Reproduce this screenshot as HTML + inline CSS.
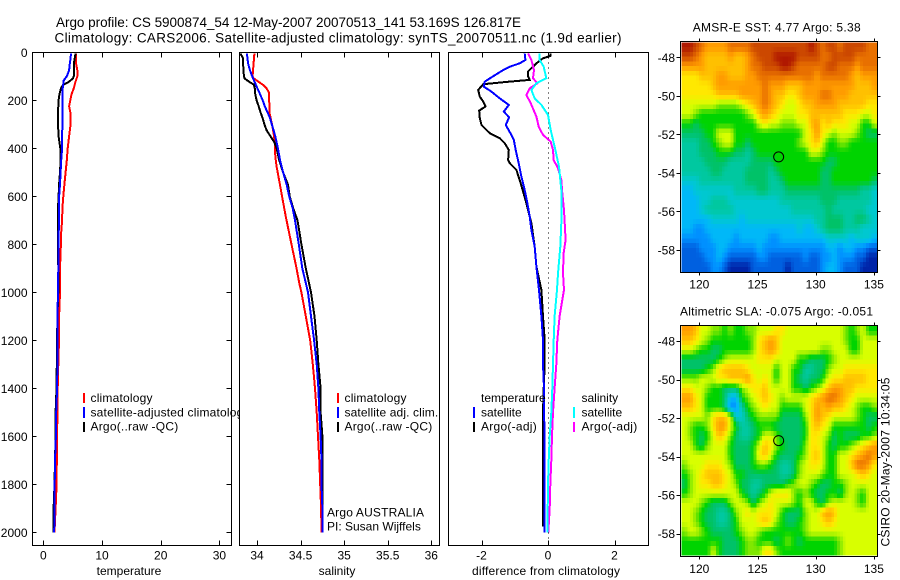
<!DOCTYPE html>
<html lang="en">
<head>
<meta charset="utf-8">
<title>Argo profile CS 5900874_54</title>
<style>
html,body{margin:0;padding:0;background:#fff;}
svg{display:block;}
text{font-family:"Liberation Sans",sans-serif;font-size:12px;fill:#000;}
.big{font-size:13.5px;}
.frame{fill:none;stroke:#000;stroke-width:1;shape-rendering:crispEdges;}
.mid{text-anchor:middle;}
</style>
</head>
<body>
<svg id="chart" xmlns="http://www.w3.org/2000/svg" width="900" height="580" viewBox="0 0 900 580">
  <rect x="0" y="0" width="900" height="580" fill="#fff"/>
  <text class="big" x="56" y="27" textLength="465" lengthAdjust="spacing">Argo profile: CS 5900874_54 12-May-2007 20070513_141 53.169S 126.817E</text>
  <text class="big" x="54.5" y="42.5" textLength="567" lengthAdjust="spacing">Climatology: CARS2006. Satellite-adjusted climatology: synTS_20070511.nc (1.9d earlier)</text>

  <g id="temp-panel">
    <rect x="32.5" y="52.5" width="199" height="493" fill="#fff"/>
    <g id="temp-series"></g>
    <rect class="frame" x="32.5" y="52.5" width="199" height="493"/>
    <g id="temp-ticks"></g>
    <g>
      <rect x="83" y="393" width="2" height="10" fill="#f00"/>
      <text x="90.5" y="402" textLength="62" lengthAdjust="spacing">climatology</text>
      <rect x="83" y="407" width="2" height="11" fill="#00f"/>
      <text x="90.5" y="416.5" textLength="159" lengthAdjust="spacing">satellite-adjusted climatology</text>
      <rect x="83" y="422" width="2" height="10" fill="#000"/>
      <text x="90.5" y="430.5" textLength="87.7" lengthAdjust="spacing">Argo(..raw -QC)</text>
    </g>
    <text class="mid" x="129" y="575">temperature</text>
  </g>

  <g id="sal-panel">
    <rect x="239.5" y="52.5" width="200" height="493" fill="#fff"/>
    <g id="sal-series"></g>
    <rect class="frame" x="239.5" y="52.5" width="200" height="493"/>
    <g id="sal-ticks"></g>
    <g>
      <rect x="337" y="393" width="2" height="10" fill="#f00"/>
      <text x="344.5" y="402" textLength="62" lengthAdjust="spacing">climatology</text>
      <rect x="337" y="407" width="2" height="11" fill="#00f"/>
      <text x="344.5" y="416.5" textLength="93.7" lengthAdjust="spacing">satellite adj. clim.</text>
      <rect x="337" y="422" width="2" height="10" fill="#000"/>
      <text x="344.5" y="430.5" textLength="87.7" lengthAdjust="spacing">Argo(..raw -QC)</text>
    </g>
    <text x="327" y="516.5" textLength="97" lengthAdjust="spacing">Argo AUSTRALIA</text>
    <text x="327" y="530.5">PI: Susan Wijffels</text>
    <text class="mid" x="337" y="575">salinity</text>
  </g>

  <g id="diff-panel">
    <rect x="448.5" y="52.5" width="200" height="493" fill="#fff"/>
    <g id="diff-series"></g>
    <rect class="frame" x="448.5" y="52.5" width="200" height="493"/>
    <g id="diff-ticks"></g>
    <g>
      <text x="481" y="402">temperature</text>
      <rect x="473" y="407" width="2" height="11" fill="#00f"/>
      <text x="481" y="416.5">satellite</text>
      <rect x="473" y="422" width="2" height="10" fill="#000"/>
      <text x="481" y="430.5" textLength="55.7" lengthAdjust="spacing">Argo(-adj)</text>
      <text x="581.5" y="402">salinity</text>
      <rect x="573" y="407" width="2" height="11" fill="#0ff"/>
      <text x="581.5" y="416.5">satellite</text>
      <rect x="573" y="422" width="2" height="10" fill="#f0f"/>
      <text x="581.5" y="430.5" textLength="55.7" lengthAdjust="spacing">Argo(-adj)</text>
    </g>
    <text x="472" y="575" textLength="148" lengthAdjust="spacing">difference from climatology</text>
  </g>

  <g id="sst-map">
    <text x="692.7" y="31.5" textLength="168" lengthAdjust="spacing">AMSR-E SST: 4.77 Argo: 5.38</text>
    <g id="sst-cells"></g>
    <rect class="frame" x="680.5" y="41.5" width="197" height="231"/>
    <g id="sst-ticks"></g>
    <circle id="sst-float" r="5" fill="none" stroke="#000" stroke-width="1"/>
  </g>

  <g id="sla-map">
    <text x="680" y="315.5" textLength="193" lengthAdjust="spacing">Altimetric SLA: -0.075 Argo: -0.051</text>
    <g id="sla-cells"></g>
    <rect class="frame" x="680.5" y="325.5" width="197" height="231"/>
    <g id="sla-ticks"></g>
    <circle id="sla-float" r="5" fill="none" stroke="#000" stroke-width="1"/>
  </g>

  <text transform="translate(889.5,546.5) rotate(-90)" textLength="169" lengthAdjust="spacing">CSIRO 20-May-2007 10:34:05</text>
</svg>

<script>
const depthTicks = [0,200,400,600,800,1000,1200,1400,1600,1800,2000];
const tempTicks = [0,10,20,30];
const salTicks = [34,34.5,35,35.5,36];
const salTickLabels = ['34','34.5','35','35.5','36'];
const diffTicks = [-2,0,2];
const lonTicks = [120,125,130,135];
const latTicks = [-48,-50,-52,-54,-56,-58];
const floatLon = 126.817;
const floatLat = -53.169;

const tempClimDepth = [5,50,75,100,125,150,175,200,225,250,300,350,400,450,500,550,600,650,700,750,800,900,1000,1100,1200,1300,1400,1500,1600,1700,1800,1900,2000];
const tempClimValue = [5.57,5.6,5.8,5.8,5.45,5.2,4.8,4.6,4.4,4.6,4.65,4.4,4.15,4,3.8,3.6,3.4,3.25,3.2,3.05,3,2.85,2.85,2.7,2.67,2.55,2.45,2.45,2.3,2.3,2.27,2.1,1.9];
const tempArgoDepth = [5,25,50,100,110,125,135,150,175,200,250,300,350,400,450,500,550,600,650,700,800,900,1000,1100,1200,1300,1400,1500,1600,1700,1800,1900,2000];
const tempArgoValue = [5.5,5.35,5.2,5.2,5,4.25,3.4,3,2.75,2.6,2.5,2.5,2.6,2.9,2.95,2.85,2.7,2.6,2.5,2.5,2.5,2.55,2.55,2.4,2.35,2.3,2.25,2.1,2.1,2,1.9,1.75,1.7];
const tempSatDepth = [5,25,50,75,100,110,120,130,150,175,200,250,300,350,400,450,500,550,600,650,700,800,900,1000,1100,1200,1300,1400,1500,1600,1700,1800,1900,2000];
const tempSatValue = [4.7,4.65,4.5,4.4,4,3.7,3.4,3.4,3.3,3.25,3.25,3.25,3.25,3.2,3.2,3.05,2.95,2.85,2.7,2.67,2.7,2.55,2.55,2.5,2.4,2.4,2.4,2.35,2.2,2.15,2,1.95,1.9,1.85];

const salClimDepth = [5,50,100,108,122,136,150,170,200,254,296,337,380,435,476,546,615,685,754,824,893,962,1000,1100,1200,1300,1400,1500,1600,1700,1800,1900,2000];
const salClimValue = [33.97,33.96,33.95,33.96,34.015,34.07,34.11,34.14,34.14,34.145,34.17,34.19,34.207,34.21,34.225,34.26,34.295,34.33,34.37,34.41,34.45,34.485,34.51,34.56,34.61,34.64,34.665,34.685,34.70,34.715,34.725,34.735,34.74];
const salArgoDepth = [5,25,50,75,100,110,125,135,150,175,200,225,250,275,300,325,350,375,400,450,500,550,600,650,700,800,900,1000,1100,1200,1300,1400,1500,1600,2000];
const salArgoValue = [33.81,33.84,33.84,33.845,33.85,33.86,33.92,33.965,33.975,33.98,33.995,34.02,34.04,34.065,34.085,34.11,34.155,34.2,34.225,34.255,34.30,34.355,34.375,34.415,34.465,34.51,34.56,34.62,34.66,34.685,34.705,34.73,34.73,34.75,34.75];
const salSatDepth = [5,25,50,75,100,125,150,175,200,225,250,275,300,325,350,400,450,500,550,600,650,700,800,900,1000,1100,1200,1300,1400,1500,1600,1700,1800,1900,2000];
const salSatValue = [33.885,33.89,33.90,33.92,33.945,33.975,34.005,34.035,34.065,34.09,34.12,34.15,34.17,34.19,34.21,34.24,34.265,34.30,34.34,34.37,34.41,34.436,34.48,34.52,34.585,34.62,34.655,34.685,34.705,34.715,34.73,34.74,34.74,34.75,34.75];

const diffTempArgoDepth = [5,15,25,46,80,100,115,122,133,157,185,205,226,243,275,303,337,358,379,407,449,462,490,546,629,712,810,893,990,1100,1200,1300,1400,1500,1600,1976];
const diffTempArgoValue = [0.07,0.07,-0.15,-0.35,-0.60,-0.60,-0.55,-1.15,-1.95,-2.10,-2.05,-1.95,-1.88,-2.07,-2.05,-2.0,-1.75,-1.45,-1.30,-1.18,-1.20,-1.15,-0.95,-0.82,-0.65,-0.50,-0.40,-0.35,-0.20,-0.15,-0.10,-0.10,-0.13,-0.15,-0.15,-0.15];
const diffTempSatDepth = [5,32,46,60,74,87,100,122,143,164,192,219,247,271,303,337,365,407,462,518,574,629,685,740,810,893,990,1100,1200,1300,1400,1500,1600,1700,1800,1900,2000];
const diffTempSatValue = [-0.70,-0.68,-0.85,-1.15,-1.35,-1.50,-1.65,-1.90,-1.93,-1.70,-1.45,-1.18,-1.33,-1.17,-1.27,-1.13,-1.03,-0.97,-0.88,-0.80,-0.70,-0.62,-0.55,-0.50,-0.40,-0.35,-0.27,-0.20,-0.15,-0.15,-0.12,-0.12,-0.10,-0.10,-0.10,-0.10,-0.10];
const diffSalArgoDepth = [5,32,74,108,129,150,178,212,268,310,344,372,407,449,483,532,587,657,782,837,921,990,1100,1200,1300,1400,1500,1600,1700,1800,1900,2000];
const diffSalArgoValue = [-0.60,-0.50,-0.42,-0.45,-0.32,-0.55,-0.65,-0.52,-0.35,-0.28,-0.15,0.08,0.15,0.17,0.30,0.40,0.43,0.48,0.53,0.47,0.45,0.48,0.35,0.28,0.25,0.20,0.15,0.12,0.10,0.07,0.05,0.01];
const diffSalSatDepth = [5,32,60,108,129,157,192,219,261,324,393,476,574,712,810,921,990,1100,1200,1300,1400,1500,1600,1700,1800,1900,2000];
const diffSalSatValue = [-0.25,-0.25,-0.13,-0.05,-0.35,-0.50,-0.40,-0.20,0,0.08,0.20,0.33,0.40,0.40,0.37,0.30,0.27,0.20,0.17,0.15,0.13,0.10,0.05,0.02,0,-0.01,-0.01];

const sstLevels = [
[15,15,14,13,12,12,12,12,13,13,13,13,14,14,14,14,14,14,14,14,14,14,15,14,13,14,14,13,14,14,14,14,13,13],
[14,14,13,12,11,11,11,11,12,11,11,12,13,14,14,14,15,15,15,15,14,14,14,14,13,13,14,14,14,14,13,13,13,13],
[12,12,12,12,11,11,11,11,11,11,11,12,13,13,14,14,14,15,15,14,13,13,13,13,13,14,14,13,13,13,12,13,13,13],
[10,10,10,11,11,11,12,12,11,11,11,12,12,13,13,13,13,13,13,13,13,13,13,12,13,13,13,13,13,12,11,12,12,12],
[10,10,10,10,10,11,12,12,12,12,12,12,12,12,13,12,12,12,11,11,11,12,12,12,12,12,12,12,12,12,11,11,11,12],
[10,10,10,10,10,10,11,11,11,11,12,12,12,12,13,12,11,11,10,10,11,12,12,12,13,13,12,12,12,11,11,11,11,11],
[9,9,9,9,9,9,8,8,8,8,9,10,11,12,13,12,11,10,9,9,10,11,11,12,12,12,12,11,11,11,11,11,10,10],
[9,9,8,7,7,7,7,7,7,7,7,8,9,11,12,11,10,9,9,9,10,10,11,11,11,11,11,11,10,10,10,9,9,10],
[7,7,6,7,7,7,7,7,7,7,7,7,7,9,10,9,9,8,8,8,9,9,11,12,10,11,10,10,10,9,9,7,7,9],
[6,6,6,6,7,7,9,9,9,7,7,7,7,7,7,7,7,7,7,7,7,9,10,12,10,9,8,9,9,9,8,7,6,6],
[5,5,5,6,6,7,8,9,9,7,7,6,7,7,7,7,7,7,7,7,8,9,10,11,9,7,7,8,8,7,7,7,7,7],
[5,5,5,6,6,6,7,7,7,6,6,5,6,7,7,7,7,7,7,7,7,7,9,9,8,7,7,7,7,7,7,7,7,7],
[5,5,5,5,6,6,6,6,5,5,5,5,6,6,6,6,7,7,7,7,7,7,7,7,7,6,6,7,7,7,7,7,7,7],
[5,5,5,5,5,6,6,5,5,5,5,6,6,6,6,5,6,7,7,7,7,7,7,7,6,6,7,7,7,7,7,7,7,7],
[4,4,4,5,5,5,5,5,5,5,5,6,6,6,6,5,5,6,7,7,7,7,7,7,6,6,7,7,7,7,7,7,7,6],
[3,3,4,4,4,4,4,4,4,5,5,5,5,6,6,5,5,5,6,6,6,6,6,6,6,6,6,6,6,6,6,5,5,4],
[3,3,3,4,4,5,5,5,4,4,4,4,4,4,4,4,4,5,5,5,5,5,5,5,6,6,6,5,5,5,5,5,5,4],
[3,3,3,4,5,5,5,5,5,4,4,4,4,4,4,4,4,4,4,5,5,5,5,5,5,6,5,5,5,5,5,5,4,4],
[3,3,3,3,3,4,4,4,4,4,3,4,4,4,4,4,4,4,4,4,4,4,4,5,5,6,6,6,5,5,6,6,5,4],
[3,3,2,2,3,3,3,3,3,3,3,3,3,3,3,3,3,3,3,3,4,3,3,4,5,6,6,6,5,5,5,4,4,4],
[2,2,2,2,2,3,3,3,3,2,3,3,3,3,3,2,2,3,3,3,3,3,3,3,3,4,4,4,4,3,4,4,4,3],
[1,1,1,2,2,2,3,3,2,2,2,2,2,3,2,2,2,2,2,2,2,2,2,2,2,3,3,2,3,3,2,2,1,1],
[1,1,1,1,2,2,3,2,1,1,1,1,1,2,2,1,1,1,1,1,1,2,1,1,2,2,3,2,2,2,1,1,0,0],
[1,1,1,1,1,2,2,1,0,0,0,0,1,1,1,1,1,1,0,1,1,1,1,1,2,3,3,2,1,1,1,0,0,0]
];

const slaLevels = [
[12,12,11,9,9,8,8,7,8,7,7,8,8,9,9,9,10,10,9,9,9,9,9,9,9,9,9,9,8,7,8,9,7,7],
[11,11,10,9,8,7,7,7,7,7,7,7,8,10,11,12,11,9,9,9,9,9,9,9,9,9,9,9,8,7,7,9,9,9],
[9,9,8,7,7,6,6,7,7,7,7,7,8,10,11,12,11,9,9,9,9,9,9,9,8,8,9,9,9,7,7,9,9,9],
[6,6,6,6,6,6,7,8,9,9,9,9,9,10,10,10,9,9,9,9,7,7,6,6,6,7,8,9,9,9,9,9,9,9],
[6,6,6,6,7,8,10,11,11,11,11,10,9,9,9,9,7,9,9,7,7,5,5,6,6,8,9,9,10,10,10,10,10,10],
[8,8,8,9,9,9,10,10,11,11,11,12,10,9,10,9,7,9,9,7,6,5,6,6,7,9,10,10,11,11,11,11,10,10],
[10,10,9,9,8,7,7,6,6,6,8,9,10,10,11,9,9,9,9,7,7,6,7,8,9,11,12,12,11,11,10,10,10,10],
[12,12,10,9,7,7,7,6,3,3,7,8,9,10,11,10,9,8,9,9,9,9,10,11,12,13,13,12,11,10,9,9,9,9],
[11,11,10,9,7,7,7,6,2,2,5,7,8,9,10,9,9,7,7,7,7,9,10,12,11,12,11,11,10,9,8,7,7,8],
[9,9,9,9,8,10,11,11,9,4,4,6,7,8,8,8,8,6,6,6,6,8,10,12,11,10,9,9,9,9,8,7,6,6],
[9,8,7,7,8,10,12,12,9,7,5,5,6,7,7,7,6,6,6,6,6,7,10,11,10,9,7,7,7,7,7,7,6,7],
[9,8,7,6,7,9,11,10,8,6,5,5,6,7,9,9,8,6,6,6,6,7,10,10,9,8,6,7,6,6,6,7,7,8],
[9,9,7,6,8,9,9,9,7,6,6,6,7,9,11,10,8,7,6,6,6,8,10,10,9,7,6,7,7,8,9,10,11,12],
[9,9,9,9,9,9,9,9,7,6,6,6,7,10,11,9,7,6,6,6,7,8,10,11,9,7,7,9,9,10,11,12,13,12],
[8,9,9,9,10,10,10,9,8,6,6,6,7,8,8,7,6,5,5,6,8,9,10,10,9,7,7,9,9,11,13,13,12,10],
[7,8,9,10,11,11,11,10,9,7,7,6,6,6,6,6,6,5,5,6,8,9,9,9,8,7,7,9,9,9,10,11,10,9],
[6,8,9,10,10,11,11,10,9,8,6,6,5,5,6,6,6,6,7,8,9,9,8,7,6,6,7,7,8,9,9,9,9,9],
[7,8,9,9,9,9,9,9,9,9,7,6,5,6,7,9,10,10,10,8,7,8,7,6,6,7,7,6,8,9,8,7,9,9],
[9,9,9,8,7,6,6,6,8,9,9,8,6,8,9,10,9,9,9,8,7,9,9,7,6,8,9,9,9,9,8,7,9,9],
[9,9,8,7,6,6,5,5,6,8,9,10,9,10,10,10,9,7,6,6,6,8,9,9,11,12,11,9,9,9,9,9,9,9],
[9,9,8,7,6,6,5,5,6,7,9,9,9,10,11,10,8,7,6,6,7,8,9,9,10,11,10,9,9,9,9,9,9,9],
[8,9,9,8,7,6,6,6,6,7,8,9,9,8,7,7,7,7,7,7,7,8,9,9,9,9,9,9,9,9,9,9,9,9],
[7,7,7,7,7,7,7,6,6,6,7,8,8,7,7,7,6,7,8,7,6,7,7,7,7,7,7,8,9,9,9,9,9,9],
[7,7,7,7,7,9,7,6,6,6,7,8,8,8,10,10,8,7,7,7,7,7,7,7,7,7,7,8,9,9,9,9,9,9]
];

const colourStops = ['#0024a8','#0060e0','#0090ff','#00b8f8','#00c8d0','#00c8a0','#00c268','#00d400','#80e800','#d8ff00','#ffe800','#ffc000','#ff9c00','#e87000','#cc4800','#b01800'];

const NS = 'http://www.w3.org/2000/svg';
function scale(d0, d1, r0, r1) {
  return function (v) { return r0 + (v - d0) * (r1 - r0) / (d1 - d0); };
}
const depthY = scale(0, 2000, 52.3, 532.3);
const tempX = scale(0, 30, 43.3, 219.4);
const salX = scale(34, 36, 257, 431.3);
const diffX = scale(-2, 2, 481.5, 614.5);
const lonX = scale(120, 135, 699.3, 873.9);
const sstLatY = scale(-48, -58, 57.3, 250);
const slaLatY = scale(-48, -58, 341, 533.7);

function addLine(parent, x1, y1, x2, y2, name) {
  const el = document.createElementNS(NS, 'line');
  el.setAttribute('x1', x1);
  el.setAttribute('y1', y1);
  el.setAttribute('x2', x2);
  el.setAttribute('y2', y2);
  el.setAttribute('stroke', '#000');
  el.setAttribute('shape-rendering', 'crispEdges');
  
  
  parent.appendChild(el);
}
function addLabel(parent, x, y, anchor, str, name) {
  const el = document.createElementNS(NS, 'text');
  el.setAttribute('x', x);
  el.setAttribute('y', y);
  el.setAttribute('text-anchor', anchor);
  el.textContent = str;
  
  
  parent.appendChild(el);
}
function addSeries(parent, depths, values, xFn, colour, name, width) {
  const el = document.createElementNS(NS, 'polyline');
  el.setAttribute('points', depths.map(function (d, i) {
    return xFn(values[i]).toFixed(1) + ',' + depthY(d).toFixed(1);
  }).join(' '));
  el.setAttribute('fill', 'none');
  el.setAttribute('stroke', colour);
  el.setAttribute('stroke-width', width || 2);
  el.setAttribute('shape-rendering', 'crispEdges');
  
  
  parent.appendChild(el);
}

const T = document.getElementById('temp-series');
addSeries(T, tempClimDepth, tempClimValue, tempX, '#f00', 'temperature-climatology-line');
addSeries(T, tempArgoDepth, tempArgoValue, tempX, '#000', 'temperature-argo-line');
addSeries(T, tempSatDepth, tempSatValue, tempX, '#00f', 'temperature-satellite-line');

const S = document.getElementById('sal-series');
addSeries(S, salClimDepth, salClimValue, salX, '#f00', 'salinity-climatology-line');
addSeries(S, salArgoDepth, salArgoValue, salX, '#000', 'salinity-argo-line');
addSeries(S, salSatDepth, salSatValue, salX, '#00f', 'salinity-satellite-line');

const D = document.getElementById('diff-series');
const zeroX = Math.floor(diffX(0)) + 0.5;
addLine(D, zeroX, 52.5, zeroX, 545.5, 'zero-difference-line');
D.lastChild.setAttribute('stroke-dasharray', '1 4');
addSeries(D, diffTempArgoDepth, diffTempArgoValue, diffX, '#000', 'difference-temperature-argo-line');
addSeries(D, diffTempSatDepth, diffTempSatValue, diffX, '#00f', 'difference-temperature-satellite-line');
addSeries(D, diffSalArgoDepth, diffSalArgoValue, diffX, '#f0f', 'difference-salinity-argo-line');
addSeries(D, diffSalSatDepth, diffSalSatValue, diffX, '#0ff', 'difference-salinity-satellite-line');

/* profile panel axes */
function xAxis(id, ticks, labels, xFn, prefix) {
  const g = document.getElementById(id);
  ticks.forEach(function (t, i) {
    const x = Math.round(xFn(t)) + 0.5;
    addLine(g, x, 52.5, x, 57.5, prefix + '-top-tick');
    addLine(g, x, 545.5, x, 540.5, prefix + '-bottom-tick');
    addLabel(g, xFn(t), 559.5, 'middle', labels[i], prefix + '-tick-label');
  });
}
xAxis('temp-ticks', tempTicks, tempTicks.map(String), tempX, 'temperature-x');
xAxis('sal-ticks', salTicks, salTickLabels, salX, 'salinity-x');
xAxis('diff-ticks', diffTicks, diffTicks.map(String), diffX, 'difference-x');

const tg = document.getElementById('temp-ticks');
depthTicks.forEach(function (d) {
  const y = Math.round(depthY(d)) + 0.5;
  if (d > 0) {
    addLine(tg, 32.5, y, 36.5, y, 'depth-left-tick');
    addLine(tg, 231.5, y, 226.5, y, 'depth-right-tick');
  }
  addLabel(tg, 27.5, depthY(d) + 4.5, 'end', String(d), 'depth-tick-label');
});

/* maps: each level grid is drawn with fine cells whose colour follows the grid smoothly */
const stopRgb = colourStops.map(function (h) {
  return [parseInt(h.slice(1, 3), 16), parseInt(h.slice(3, 5), 16), parseInt(h.slice(5, 7), 16)];
});
function levelColour(v) {
  const t = Math.max(0, Math.min(stopRgb.length - 1, v));
  const i = Math.min(stopRgb.length - 2, Math.floor(t));
  const f = t - i;
  const a = stopRgb[i], b = stopRgb[i + 1];
  return 'rgb(' + [0, 1, 2].map(function (k) { return Math.round(a[k] + (b[k] - a[k]) * f); }).join(',') + ')';
}
function sampleGrid(rows, rf, cf) {
  const nr = rows.length, nc = rows[0].length;
  const r = Math.max(0, Math.min(nr - 1, rf));
  const c = Math.max(0, Math.min(nc - 1, cf));
  const r0 = Math.floor(r), c0 = Math.floor(c);
  const r1 = Math.min(nr - 1, r0 + 1), c1 = Math.min(nc - 1, c0 + 1);
  const fr = r - r0, fc = c - c0;
  return (rows[r0][c0] * (1 - fc) + rows[r0][c1] * fc) * (1 - fr) +
         (rows[r1][c0] * (1 - fc) + rows[r1][c1] * fc) * fr;
}
function drawMap(id, rows, latFn) {
  const g = document.getElementById(id);
  const sub = 2;
  const x0 = lonX(118.47), x1 = lonX(135.3);
  const y0 = latFn(-47.22), y1 = latFn(-59.13);
  const nr = rows.length * sub, nc = rows[0].length * sub;
  const cw = (x1 - x0) / nc;
  const ch = (y1 - y0) / nr;
  for (let r = 0; r < nr; r++) {
    for (let c = 0; c < nc; c++) {
      const v = sampleGrid(rows, (r + 0.5) / sub - 0.5, (c + 0.5) / sub - 0.5);
      const el = document.createElementNS(NS, 'rect');
      el.setAttribute('x', (x0 + c * cw).toFixed(2));
      el.setAttribute('y', (y0 + r * ch).toFixed(2));
      el.setAttribute('width', (cw + (c < nc - 1 ? 0.6 : 0)).toFixed(2));
      el.setAttribute('height', (ch + (r < nr - 1 ? 0.6 : 0)).toFixed(2));
      el.setAttribute('fill', levelColour(v));
      el.setAttribute('shape-rendering', 'crispEdges');
      
      
      g.appendChild(el);
    }
  }
}
function mapAxes(id, latFn, top, bottom, labelY, prefix) {
  const g = document.getElementById(id);
  lonTicks.forEach(function (lon) {
    const x = Math.round(lonX(lon)) + 0.5;
    addLine(g, x, top, x, top - 3, prefix + '-lon-top-tick');
    addLine(g, x, bottom, x, bottom + 3, prefix + '-lon-bottom-tick');
    addLabel(g, lonX(lon), labelY, 'middle', String(lon), prefix + '-lon-tick-label');
  });
  latTicks.forEach(function (lat) {
    const y = Math.round(latFn(lat)) + 0.5;
    addLine(g, 680.5, y, 676.5, y, prefix + '-lat-left-tick');
    addLine(g, 877.5, y, 880.5, y, prefix + '-lat-right-tick');
    addLabel(g, 675, latFn(lat) + 4.5, 'end', String(lat), prefix + '-lat-tick-label');
  });
}
drawMap('sst-cells', sstLevels, sstLatY);
drawMap('sla-cells', slaLevels, slaLatY);
mapAxes('sst-ticks', sstLatY, 41.5, 272.5, 288.5, 'sst');
mapAxes('sla-ticks', slaLatY, 325.5, 556.5, 573, 'sla');

const c1 = document.getElementById('sst-float');
c1.setAttribute('cx', lonX(floatLon));
c1.setAttribute('cy', sstLatY(floatLat));
const c2 = document.getElementById('sla-float');
c2.setAttribute('cx', lonX(floatLon));
c2.setAttribute('cy', slaLatY(floatLat));
</script>
</body>
</html>
